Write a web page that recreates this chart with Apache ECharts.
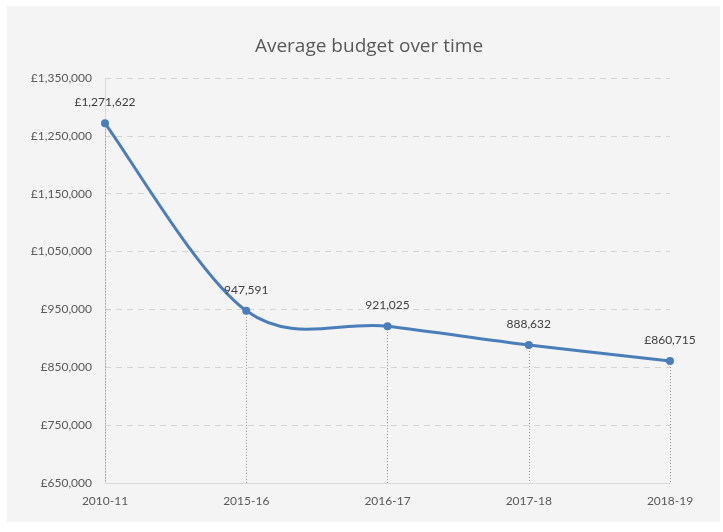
<!DOCTYPE html>
<html>
<head>
<meta charset="utf-8">
<script src="https://cdn.jsdelivr.net/npm/echarts@6/dist/echarts.min.js"></script>
<style>
  html, body { margin: 0; padding: 0; background: #ffffff; }
  #chart { width: 723px; height: 532px; }
</style>
</head>
<body>
<div id="chart"></div>
<script>
// Financial years on the x axis
const years = ['2010-11', '2015-16', '2016-17', '2017-18', '2018-19'];
// Average budget per year (£)
const avgBudget = [1271622, 947591, 921025, 888632, 860715];
// Currency sign shown in front of each point label
const labelPrefix = ['£', '', '', '', '£'];
// Value axis range and step
const yMin = 650000;
const yMax = 1350000;
const yStep = 100000;

const fmt = v => v.toLocaleString('en-GB');
const LINE_COLOR = '#4a7ebb';

const chart = echarts.init(document.getElementById('chart'));

// Vertical drop lines from each point down to the category axis
const dropLines = avgBudget.map((v, i) => [
  { coord: [i, v] },
  { coord: [i, yMin] }
]);

// Smoothed curve through all points (Catmull-Rom as cubic Bezier segments),
// positioned through the chart's own coordinate system.
function renderCurve(params, api) {
  if (params.dataIndex !== 0) return null;
  const pts = avgBudget.map((v, i) => api.coord([i, v]));
  const n = pts.length;
  const children = [];
  for (let i = 0; i < n - 1; i++) {
    const p0 = pts[Math.max(i - 1, 0)];
    const p1 = pts[i];
    const p2 = pts[i + 1];
    const p3 = pts[Math.min(i + 2, n - 1)];
    children.push({
      type: 'bezierCurve',
      shape: {
        x1: p1[0], y1: p1[1],
        cpx1: p1[0] + (p2[0] - p0[0]) / 6,
        cpy1: p1[1] + (p2[1] - p0[1]) / 6,
        cpx2: p2[0] - (p3[0] - p1[0]) / 6,
        cpy2: p2[1] - (p3[1] - p1[1]) / 6,
        x2: p2[0], y2: p2[1]
      },
      style: { stroke: LINE_COLOR, lineWidth: 3, fill: null, lineCap: 'round' }
    });
  }
  return { type: 'group', children };
}

chart.setOption({
  backgroundColor: '#ffffff',
  animation: false,
  graphic: [{
    type: 'rect',
    z: -10,
    shape: { x: 7, y: 6, width: 713, height: 516 },
    style: { fill: '#f4f4f4' }
  }],
  title: {
    text: 'Average budget over time',
    left: 364,
    textAlign: 'center',
    top: 32,
    textStyle: {
      fontFamily: 'Open Sans',
      fontWeight: 'normal',
      fontSize: 19,
      color: '#595959'
    }
  },
  grid: { left: 105, right: 53, top: 78, bottom: 49 },
  xAxis: {
    type: 'category',
    data: years,
    boundaryGap: false,
    axisLine: { show: true, lineStyle: { color: '#d9d9d9', width: 1 } },
    axisTick: { show: false },
    axisLabel: {
      fontFamily: 'Lato',
      fontSize: 12,
      color: '#595959',
      margin: 12
    },
    splitLine: { show: false }
  },
  yAxis: {
    type: 'value',
    min: yMin,
    max: yMax,
    interval: yStep,
    axisLine: { show: true, lineStyle: { color: '#d9d9d9', width: 1 } },
    axisTick: { show: false },
    axisLabel: {
      fontFamily: 'Lato',
      fontSize: 12,
      color: '#595959',
      margin: 13,
      formatter: v => '£' + fmt(v)
    },
    splitLine: {
      show: true,
      lineStyle: { color: '#d4d4d4', type: [6, 5], width: 1 }
    }
  },
  series: [
    {
      type: 'custom',
      renderItem: renderCurve,
      data: avgBudget.map((v, i) => [i, v]),
      encode: { x: 0, y: 1 },
      silent: true,
      z: 4
    },
    {
      type: 'line',
      data: avgBudget,
      symbol: 'circle',
      symbolSize: 8,
      lineStyle: { width: 0, opacity: 0 },
      itemStyle: { color: LINE_COLOR },
      label: {
        show: true,
        position: 'top',
        distance: 11,
        fontFamily: 'Lato',
        fontSize: 12,
        color: '#404040',
        formatter: p => labelPrefix[p.dataIndex] + fmt(p.value)
      },
      markLine: {
        silent: true,
        symbol: ['none', 'none'],
        label: { show: false },
        lineStyle: { color: '#8c8c8c', type: [1, 2], width: 1 },
        z: 1,
        data: dropLines
      },
      z: 5
    }
  ]
});
</script>
</body>
</html>
